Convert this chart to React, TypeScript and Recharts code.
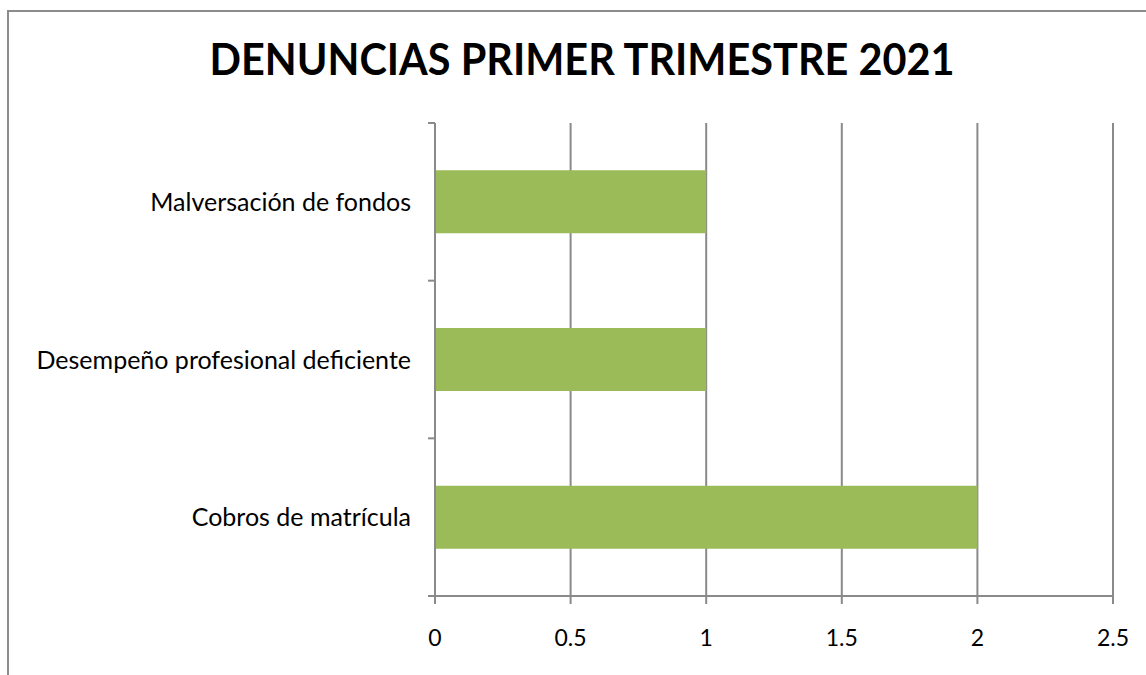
import React from "react";
import { BarChart, Bar, XAxis, YAxis, CartesianGrid } from "recharts";

const TITLE = "DENUNCIAS PRIMER TRIMESTRE 2021";
const categories = ["Malversación de fondos", "Desempeño profesional deficiente", "Cobros de matrícula"];
const values = [1, 1, 2];
const xTicks = [0, 0.5, 1, 1.5, 2, 2.5];

const data = categories.map((name, i) => ({ name, value: values[i] }));

const W = 1146;
const H = 675;
const MARGIN = { top: 123, right: 33, bottom: 39, left: 0 };
const Y_AXIS_W = 435;
const X_AXIS_H = 40;
const PLOT_H = H - MARGIN.top - MARGIN.bottom - X_AXIS_H;
const BAND = PLOT_H / categories.length;
const GRID = "#8a8a8a";
const FONT = "Lato, 'Open Sans', sans-serif";

const CategoryTick = (props: any) => {
  const { x, y, payload, index } = props;
  const half = payload && payload.offset ? payload.offset : BAND / 2;
  const ax = x;
  return (
    <g>
      <line x1={ax - 7} x2={ax} y1={y - half} y2={y - half} stroke={GRID} strokeWidth={2} />
      {index === categories.length - 1 && (
        <line x1={ax - 7} x2={ax} y1={y + half} y2={y + half} stroke={GRID} strokeWidth={2} />
      )}
      <text x={ax - 24} y={y} dy="0.36em" textAnchor="end" fill="#000" fontSize={25} fontFamily={FONT}>
        {payload.value}
      </text>
    </g>
  );
};

const ValueTick = (props: any) => {
  const { x, y, payload } = props;
  return (
    <text x={x} y={y} dy="0.71em" textAnchor="middle" fill="#000" fontSize={23} fontFamily={FONT}>
      {payload.value}
    </text>
  );
};

export default function App() {
  return (
    <div style={{ position: "absolute", left: 0, top: 0, width: W, height: H, overflow: "hidden", background: "#fff" }}>
      <div
        style={{
          position: "absolute",
          left: 7,
          top: 10,
          width: 1200,
          height: 720,
          borderLeft: "2px solid #8c8c8c",
          borderTop: "2px solid #8c8c8c",
        }}
      />
      <div style={{ position: "absolute", left: 0, top: 0 }}>
        <BarChart width={W} height={H} data={data} layout="vertical" margin={MARGIN} barCategoryGap="30%">
          <CartesianGrid horizontal={false} vertical={true} stroke={GRID} strokeWidth={2} />
          <XAxis
            type="number"
            domain={[0, 2.5]}
            ticks={xTicks}
            height={X_AXIS_H}
            axisLine={{ stroke: GRID, strokeWidth: 2 }}
            tickLine={{ stroke: GRID, strokeWidth: 2 }}
            tickSize={8}
            tickMargin={26}
            tick={<ValueTick />}
            interval={0}
          />
          <YAxis
            type="category"
            dataKey="name"
            width={Y_AXIS_W}
            axisLine={{ stroke: GRID, strokeWidth: 2 }}
            tickLine={false}
            tickSize={0}
            tickMargin={0}
            tick={<CategoryTick />}
            interval={0}
          />
          <Bar dataKey="value" fill="#9BBB59" isAnimationActive={false} />
        </BarChart>
      </div>
      <svg width={W} height={110} style={{ position: "absolute", left: 0, top: 0 }}>
        <text
          x={582}
          y={75}
          textAnchor="middle"
          fontFamily={FONT}
          fontWeight="bold"
          fontSize={43}
          fill="#000"
          textLength={745}
          lengthAdjust="spacingAndGlyphs"
        >
          {TITLE}
        </text>
      </svg>
    </div>
  );
}
